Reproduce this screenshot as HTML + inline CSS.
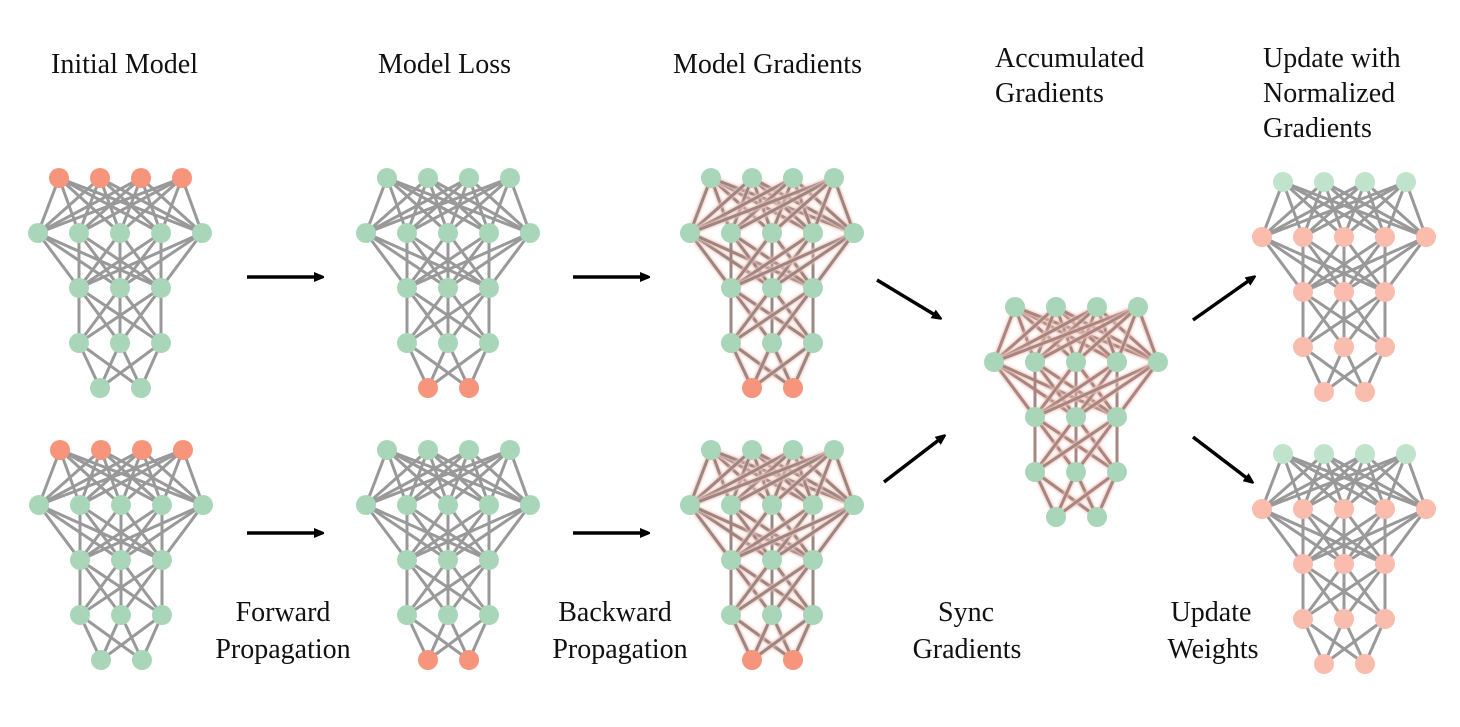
<!DOCTYPE html>
<html><head><meta charset="utf-8"><style>
body{margin:0;background:#fff;width:1460px;height:722px;overflow:hidden}
svg text{font-family:"Liberation Serif",serif;font-size:28px;fill:#111}
</style></head><body>
<svg id="s" width="1460" height="722" xmlns="http://www.w3.org/2000/svg">
<defs>
<marker id="ah" markerWidth="10" markerHeight="10" refX="8" refY="5" orient="auto" markerUnits="userSpaceOnUse"><path d="M0,0 L12,5 L0,10 z" fill="#000"/></marker>
<filter id="gl" x="-10%" y="-10%" width="120%" height="120%"><feGaussianBlur stdDeviation="1.2"/></filter>
</defs>
<g id="nets"></g>
<g stroke="#000" stroke-width="3.5" marker-end="url(#ah)">
<line x1="247" y1="277" x2="322" y2="277"/>
<line x1="573" y1="277" x2="648" y2="277"/>
<line x1="247" y1="533" x2="322" y2="533"/>
<line x1="573" y1="533" x2="648" y2="533"/>
<line x1="877" y1="280" x2="940" y2="318"/>
<line x1="884" y1="482" x2="944" y2="436"/>
<line x1="1193" y1="320" x2="1254" y2="277"/>
<line x1="1193" y1="437" x2="1252" y2="482"/>
</g>
<text x="51" y="73">Initial Model</text>
<text x="378" y="73">Model Loss</text>
<text x="673" y="73">Model Gradients</text>
<text x="995" y="67">Accumulated</text>
<text x="995" y="102">Gradients</text>
<text x="1263" y="67">Update with</text>
<text x="1263" y="102">Normalized</text>
<text x="1263" y="137">Gradients</text>
<text x="283" y="621" text-anchor="middle">Forward</text>
<text x="283" y="658" text-anchor="middle">Propagation</text>
<text x="615" y="621" text-anchor="middle">Backward</text>
<text x="620" y="658" text-anchor="middle">Propagation</text>
<text x="966" y="621" text-anchor="middle">Sync</text>
<text x="967" y="658" text-anchor="middle">Gradients</text>
<text x="1211" y="621" text-anchor="middle">Update</text>
<text x="1213" y="658" text-anchor="middle">Weights</text>
</svg>
<script>
var G='#a9d6b8',S='#f6957c',LG='#c0e3cb',LP='#fabcad';
var layers=[[[59,100,141,182],0],[[38,79,120,161,202],55],[[79,120,161],110],[[79,120,161],165],[[100,141],210]];
function net(ox,oy,cols,lc,glow){
 var h='';
 for(var i=0;i<4;i++){var a=layers[i],b=layers[i+1];
  a[0].forEach(function(x1){b[0].forEach(function(x2){
   if(glow)h+='<line x1="'+(x1+ox)+'" y1="'+(a[1]+oy)+'" x2="'+(x2+ox)+'" y2="'+(b[1]+oy)+'" stroke="#f0c8be" stroke-width="5" filter="url(#gl)"/>';
   h+='<line x1="'+(x1+ox)+'" y1="'+(a[1]+oy)+'" x2="'+(x2+ox)+'" y2="'+(b[1]+oy)+'" stroke="'+lc+'" stroke-width="3"/>';});});}
 layers.forEach(function(l,i){l[0].forEach(function(x){h+='<circle cx="'+(x+ox)+'" cy="'+(l[1]+oy)+'" r="10" fill="'+cols[i]+'"/>';});});
 return h;}
var h='';
[178,450].forEach(function(y,k){var dy=y-178;
 h+=net(0+k,178+dy,[S,G,G,G,G],'#999',0);
 h+=net(328,178+dy,[G,G,G,G,S],'#999',0);
 h+=net(652,178+dy,[G,G,G,G,S],'#9d8582',1);
 h+=net(1224,182+dy,[LG,LP,LP,LP,LP],'#999',0);
});
h+=net(956,307,[G,G,G,G,G],'#a88580',1);
document.getElementById('nets').innerHTML=h;
</script>
</body></html>
